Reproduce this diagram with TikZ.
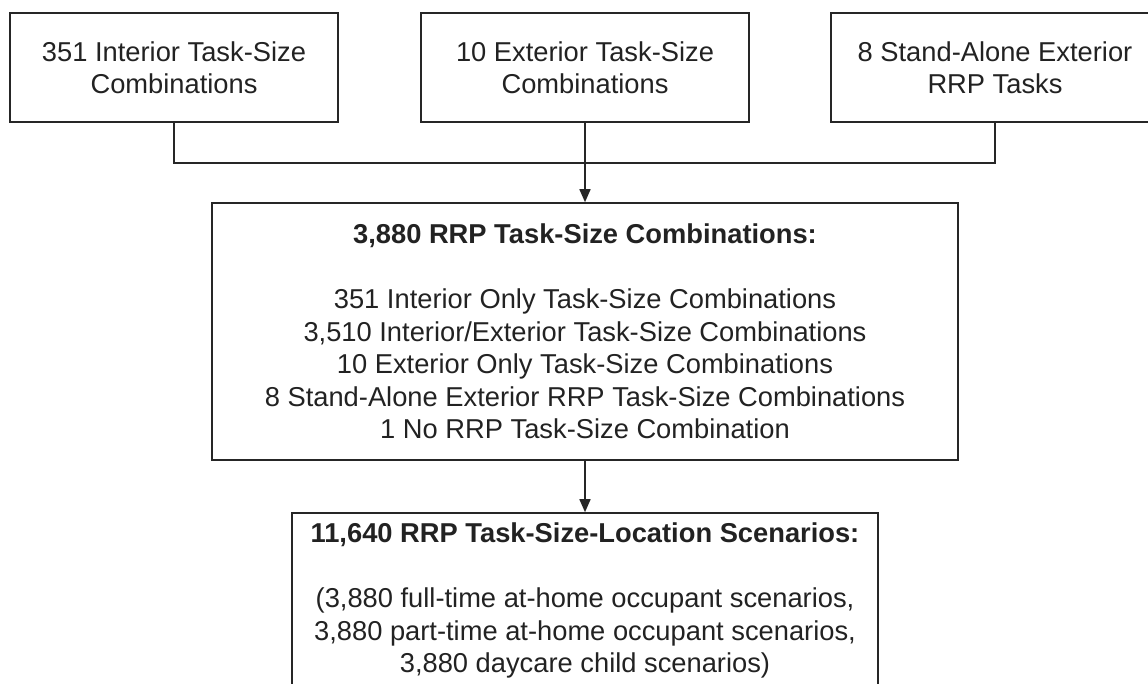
\documentclass[tikz,border=0pt]{standalone}
\usepackage{fontspec}
\setmainfont{Liberation Sans}
\usetikzlibrary{arrows.meta}
\definecolor{linegray}{HTML}{262626}
\definecolor{textgray}{HTML}{222222}
\tikzset{
  box/.style={draw=linegray, line width=1.6pt, rectangle, inner sep=0pt, align=center,
    text=textgray, font=\fontsize{27.3pt}{32.5pt}\selectfont},
  link/.style={draw=linegray, line width=1.6pt},
  arrowlink/.style={link, -{Triangle[length=13pt,width=11pt]}}
}
\begin{document}
\begin{tikzpicture}[x=1pt,y=-1pt]
\useasboundingbox (0,0) rectangle (1148,683);
\node[box, minimum width=328pt, minimum height=109pt] (b1) at (174,67.5)
  {351 Interior Task-Size\\Combinations};
\node[box, minimum width=328pt, minimum height=109pt] (b2) at (585,67.5)
  {10 Exterior Task-Size\\Combinations};
\node[box, minimum width=328pt, minimum height=109pt] (b3) at (995,67.5)
  {8 Stand-Alone Exterior\\RRP Tasks};
\node[box, minimum width=746pt, minimum height=257pt] (b4) at (585,331.5)
  {\textbf{3,880 RRP Task-Size Combinations:}\\[32.5pt]
   351 Interior Only Task-Size Combinations\\
   3,510 Interior/Exterior Task-Size Combinations\\
   10 Exterior Only Task-Size Combinations\\
   8 Stand-Alone Exterior RRP Task-Size Combinations\\
   1 No RRP Task-Size Combination};
\node[box, minimum width=586pt, minimum height=175pt] (b5) at (585,600.5)
  {\textbf{11,640 RRP Task-Size-Location Scenarios:}\\[32.5pt]
   (3,880 full-time at-home occupant scenarios,\\
   3,880 part-time at-home occupant scenarios,\\
   3,880 daycare child scenarios)};
\coordinate (j) at (585,163);
\draw[link] (b1.south) |- (j);
\draw[link] (b3.south) |- (j);
\draw[arrowlink] (b2.south) -- (b4.north);
\draw[arrowlink] (b4.south) -- (b5.north);
\end{tikzpicture}
\end{document}
